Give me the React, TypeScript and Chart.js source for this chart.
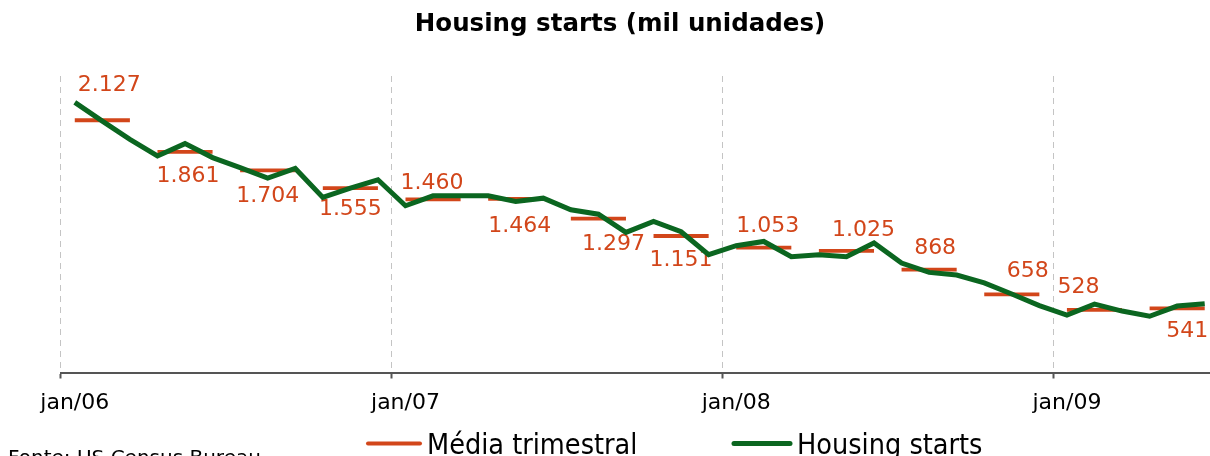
import React, { useEffect, useRef } from 'react';
import { Chart, registerables } from 'chart.js';

Chart.register(...registerables);

// ---- data ----
const months: string[] = [
  'jan/06', 'fev/06', 'mar/06', 'abr/06', 'mai/06', 'jun/06', 'jul/06', 'ago/06', 'set/06', 'out/06', 'nov/06', 'dez/06',
  'jan/07', 'fev/07', 'mar/07', 'abr/07', 'mai/07', 'jun/07', 'jul/07', 'ago/07', 'set/07', 'out/07', 'nov/07', 'dez/07',
  'jan/08', 'fev/08', 'mar/08', 'abr/08', 'mai/08', 'jun/08', 'jul/08', 'ago/08', 'set/08', 'out/08', 'nov/08', 'dez/08',
  'jan/09', 'fev/09', 'mar/09', 'abr/09', 'mai/09', 'jun/09',
];

const housingStarts: number[] = [
  2278, 2120, 1965, 1826, 1930, 1812, 1728, 1639, 1720, 1476, 1555, 1625,
  1406, 1490, 1490, 1490, 1442, 1470, 1372, 1335, 1181, 1274, 1187, 993,
  1069, 1105, 976, 993, 976, 1092, 923, 844, 822, 755, 662, 564,
  484, 576, 518, 474, 560, 580,
];

const quarterAverages: number[] = [2127, 1861, 1704, 1555, 1460, 1464, 1297, 1151, 1053, 1025, 868, 658, 528, 541];

// label placement relative to the centre of each quarterly dash [dx, dy]
const quarterLabelOffsets: [number, number][] = [
  [7, -37], [3, 22], [0, 24], [0, 19], [-1, -18], [4, 25], [15, 23],
  [0, 22], [4, -24], [17, -23], [6, -24], [16, -25], [-16, -25], [10, 21],
];

const TITLE = 'Housing starts (mil unidades)';
const SOURCE = 'Fonte: US Census Bureau';
const RED = '#D2461A';
const GREEN = '#0B6620';

const fmt = (v: number) =>
  v >= 1000 ? `${Math.floor(v / 1000)}.${String(v % 1000).padStart(3, '0')}` : String(v);

const isYearStart = (i: any) => typeof i === 'number' && i < months.length && i % 12 === 0;

const overlayPlugin = {
  id: 'overlay',
  beforeDatasetsDraw(chart: any) {
    const { ctx } = chart;
    const xs = chart.scales.x;
    const ys = chart.scales.y;
    const size = 22;
    ctx.save();
    ctx.font = `${size}px "DejaVu Sans"`;
    ctx.fillStyle = RED;
    ctx.textAlign = 'center';
    ctx.textBaseline = 'alphabetic';
    quarterAverages.forEach((v, q) => {
      const x0 = xs.getPixelForValue(q * 3);
      const x1 = xs.getPixelForValue(q * 3 + 2);
      const [dx, dy] = quarterLabelOffsets[q];
      const cx = (x0 + x1) / 2 + dx;
      const cy = ys.getPixelForValue(v) + dy;
      ctx.fillText(fmt(v), cx, cy + 0.3645 * size);
    });
    ctx.restore();
  },
  afterDraw(chart: any) {
    const { ctx } = chart;
    ctx.save();
    // title
    ctx.font = 'bold 24.5px "DejaVu Sans"';
    ctx.fillStyle = '#000';
    ctx.textAlign = 'center';
    ctx.textBaseline = 'alphabetic';
    ctx.fillText(TITLE, chart.width / 2, 31);

    // legend
    const items = [
      { ds: chart.data.datasets[1], x: 368, len: 52, w: 4 },
      { ds: chart.data.datasets[0], x: 734, len: 56, w: 5 },
    ];
    ctx.font = '28.5px "DejaVu Sans Condensed", "DejaVu Sans"';
    ctx.textAlign = 'left';
    items.forEach((it) => {
      ctx.strokeStyle = it.ds.legendColor;
      ctx.lineWidth = it.w;
      ctx.lineCap = 'round';
      ctx.beginPath();
      ctx.moveTo(it.x, 443.5);
      ctx.lineTo(it.x + it.len, 443.5);
      ctx.stroke();
      ctx.fillStyle = '#000';
      ctx.fillText(it.ds.label, it.x + it.len + 7, 453.5);
    });

    // source
    ctx.font = '20px "DejaVu Sans"';
    ctx.fillStyle = '#000';
    ctx.fillText(SOURCE, 8, 464);
    ctx.restore();
  },
};

export default function App() {
  const ref = useRef<HTMLCanvasElement | null>(null);

  useEffect(() => {
    document.body.style.margin = '0';
    document.body.style.overflow = 'hidden';
    const canvas = ref.current;
    if (!canvas) return;
    const quarterSeries = months.map((_, i) => quarterAverages[Math.floor(i / 3)]);

    const chart = new Chart(canvas, {
      type: 'line',
      data: {
        labels: months,
        datasets: [
          {
            label: 'Housing starts',
            data: housingStarts,
            borderColor: GREEN,
            legendColor: GREEN,
            borderWidth: 5,
            pointRadius: 0,
            tension: 0,
            order: 0,
            borderJoinStyle: 'miter',
          } as any,
          {
            label: 'Média trimestral',
            data: quarterSeries,
            borderColor: RED,
            legendColor: RED,
            borderWidth: 3.8,
            pointRadius: 0,
            tension: 0,
            order: 1,
            borderCapStyle: 'butt',
            segment: {
              borderColor: (c: any) =>
                Math.floor(c.p0DataIndex / 3) === Math.floor(c.p1DataIndex / 3) ? RED : 'rgba(0,0,0,0)',
            },
          } as any,
        ],
      },
      options: {
        animation: false,
        responsive: false,
        devicePixelRatio: 1,
        layout: { padding: { top: 76, left: 61, right: 21.5, bottom: 0 } },
        plugins: {
          legend: { display: false },
          title: { display: false },
          tooltip: { enabled: false },
        },
        scales: {
          x: {
            type: 'category',
            offset: true,
            grid: {
              offset: true,
              color: (c: any) => (isYearStart(c.index) ? '#c4c4c4' : 'rgba(0,0,0,0)'),
              lineWidth: 1,
              drawTicks: true,
              tickLength: 6,
              tickWidth: 2,
              tickColor: (c: any) => (isYearStart(c.index) ? '#555555' : 'rgba(0,0,0,0)'),
              tickBorderDash: [],
            },
            border: { display: true, color: '#555555', width: 2, dash: [6, 5] },
            ticks: {
              autoSkip: false,
              maxRotation: 0,
              minRotation: 0,
              padding: 12,
              color: '#000',
              font: { family: 'DejaVu Sans', size: 22 },
              callback: (_v: any, i: number) => (i % 12 === 0 ? months[i] : ''),
            },
            afterFit: (s: any) => {
              s.height = 83.5;
            },
          } as any,
          y: { display: false, min: 0, max: 2500 },
        },
      },
      plugins: [overlayPlugin],
    });
    return () => chart.destroy();
  }, []);

  return (
    <div style={{ position: 'relative', width: 1210, height: 456, overflow: 'hidden', background: '#fff' }}>
      <canvas ref={ref} width={1240} height={456} style={{ display: 'block' }} />
    </div>
  );
}
